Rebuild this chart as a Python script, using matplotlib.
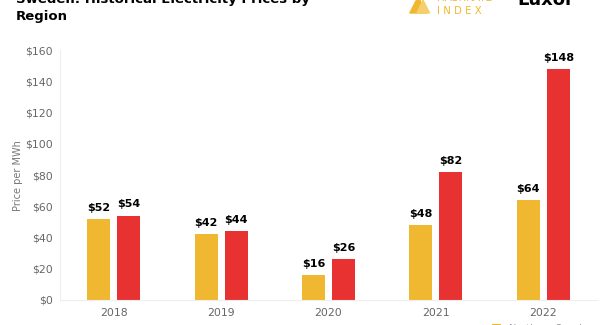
import matplotlib.pyplot as plt
import numpy as np
from matplotlib.patches import Polygon

years = ['2018', '2019', '2020', '2021', '2022']
north = [52, 42, 16, 48, 64]
south = [54, 44, 26, 82, 148]
yticks = [0, 20, 40, 60, 80, 100, 120, 140, 160]

yellow = '#F0B830'
red = '#E83232'

fig = plt.figure(figsize=(6, 3.25), dpi=100)
ax = fig.add_axes([0.1, 0.077, 0.895, 0.768])

x = np.arange(len(years))
w = 0.215
off = 0.14
ax.bar(x - off, north, w, color=yellow, label='Northern Sweden')
ax.bar(x + off, south, w, color=red, label='Southern Sweden')

for xi, v in zip(x, north):
    ax.text(xi - off, v + 4, f'${v}', ha='center', va='bottom', fontsize=8, fontweight='bold')
for xi, v in zip(x, south):
    ax.text(xi + off, v + 4, f'${v}', ha='center', va='bottom', fontsize=8, fontweight='bold')

ax.set_xlim(-0.5, 4.5)
ax.set_ylim(0, 160)
ax.set_xticks(x)
ax.set_xticklabels(years)
ax.set_yticks(yticks)
ax.set_yticklabels([f'${t}' for t in yticks])
ax.tick_params(axis='both', length=0, labelsize=7.8, labelcolor='#666666', pad=6)
ax.tick_params(axis='y', pad=5)
ax.set_ylabel('Price per MWh', fontsize=7, color='#777777', labelpad=1.5)
for s in ['top', 'right']:
    ax.spines[s].set_visible(False)
for s in ['left', 'bottom']:
    ax.spines[s].set_color('#eeeeee')
    ax.spines[s].set_linewidth(0.8)

# title, cropped at the top as in the source image
fig.text(0.027, 0.99, 'Sweden: Historical Electricity Prices by', fontsize=9.5, fontweight='heavy', va='baseline')
fig.text(0.027, 0.937, 'Region', fontsize=9.5, fontweight='heavy', va='baseline')

# logos
fig.text(0.728, 0.998, 'HASHRATE', fontsize=7.5, color=yellow, va='baseline')
fig.text(0.728, 0.958, 'I N D E X', fontsize=7.3, color=yellow, va='baseline')
fig.patches.append(Polygon([[0.683, 0.96], [0.697, 1.01], [0.711, 0.96]], closed=True,
                           transform=fig.transFigure, color=yellow, figure=fig))
fig.patches.append(Polygon([[0.695, 0.96], [0.705, 1.0], [0.716, 0.96]], closed=True,
                           transform=fig.transFigure, color='#F5CF6A', figure=fig))
fig.text(0.862, 0.985, 'Luxor', fontsize=13, fontweight='bold', va='baseline')

# legend, mostly cut off at the bottom
fig.legend(loc='upper left', bbox_to_anchor=(0.805, 0.03), ncol=2, frameon=False,
           fontsize=7, handlelength=1, handleheight=1, labelcolor='#999999')

fig.savefig('out.png', dpi=100)
